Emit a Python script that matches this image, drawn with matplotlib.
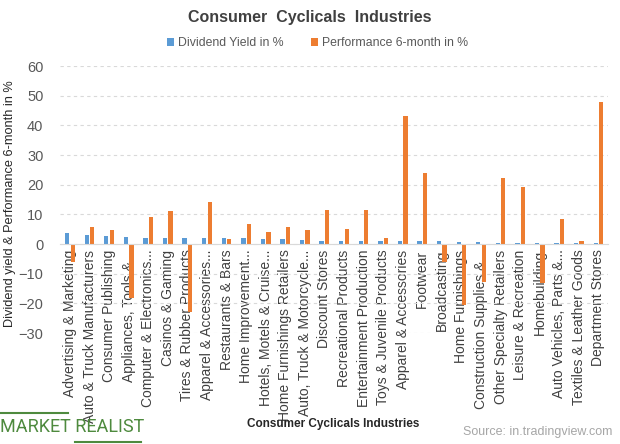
import numpy as np
import matplotlib
matplotlib.use("Agg")
from matplotlib import pyplot as plt

plt.rcParams['font.family'] = ['Liberation Sans', 'DejaVu Sans']

industries = [
    "Advertising & Marketing", "Auto & Truck Manufacturers", "Consumer Publishing",
    "Appliances, Tools &...", "Computer & Electronics...", "Casinos & Gaming",
    "Tires & Rubber Products", "Apparel & Accessories...", "Restaurants & Bars",
    "Home Improvement...", "Hotels, Motels & Cruise...", "Home Furnishings Retailers",
    "Auto, Truck & Motorcycle...", "Discount Stores", "Recreational Products",
    "Entertainment Production", "Toys & Juvenile Products", "Apparel & Accessories",
    "Footwear", "Broadcasting", "Home Furnishings", "Construction Supplies &...",
    "Other Specialty Retailers", "Leisure & Recreation", "Homebuilding",
    "Auto Vehicles, Parts &...", "Textiles & Leather Goods", "Department Stores",
]
dividend_yield = [3.7, 3.1, 2.6, 2.4, 2.1, 1.9, 1.9, 1.9, 1.9, 1.9, 1.7, 1.7, 1.5, 1.1,
                  1.1, 0.9, 0.9, 0.9, 0.9, 0.9, 0.7, 0.7, 0.45, 0.45, 0.45, 0.2, 0.2, 0.2]
perf_6m = [-6.0, 5.7, 4.9, -18.2, 9.2, 11.1, -22.8, 14.1, 1.8, 6.7, 3.9, 5.9, 4.7, 11.6,
           5.2, 11.6, 1.9, 43.2, 24.0, -6.0, -20.5, -12.7, 22.3, 19.3, -13.2, 8.5, 0.9, 47.9]

blue = '#5B9BD5'
orange = '#ED7D31'

fig = plt.figure(figsize=(6.2, 4.44), dpi=100)
ax = fig.add_axes([0.097, 0.25, 0.884, 0.601])

x = np.arange(len(industries))
w = 0.22
ax.bar(x - 0.14, dividend_yield, w, color=blue, label='Dividend Yield in %', zorder=3)
ax.bar(x + 0.14, perf_6m, w, color=orange, label='Performance 6-month in %', zorder=3)

ax.set_xlim(-0.5, len(industries) - 0.5)
ax.set_ylim(-30, 60)
ax.set_yticks(range(-30, 61, 10))
ax.yaxis.grid(True, linestyle=(0, (3, 3)), color='#D9D9D9', linewidth=0.8, zorder=0)
ax.set_axisbelow(True)

for s in ['top', 'right', 'left']:
    ax.spines[s].set_visible(False)
ax.spines['bottom'].set_position(('data', 0))
ax.spines['bottom'].set_color('#D9D9D9')
ax.spines['bottom'].set_zorder(4)

ax.set_xticks(x)
ax.set_xticklabels(industries, rotation=90, fontsize=10, color='#404040')
ax.tick_params(axis='x', length=0, pad=4)
ax.tick_params(axis='y', length=0, pad=12, labelsize=10.5, labelcolor='#595959')

ax.set_ylabel('Dividend yield & Performance 6-month in %', fontsize=9.2, color='#262626')
ax.yaxis.set_label_coords(-0.08, 0.485)

fig.text(0.5, 0.96, 'Consumer  Cyclicals  Industries', ha='center', va='center',
         fontsize=11.5, fontweight='bold', color='#404040')
fig.legend(loc='center', bbox_to_anchor=(0.512, 0.903), ncol=2, frameon=False,
           fontsize=8.8, handlelength=0.6, handleheight=0.6, handletextpad=0.3,
           columnspacing=2.2, labelcolor='#595959')

fig.text(0.538, 0.045, 'Consumer Cyclicals Industries', ha='center', va='center',
         fontsize=8.5, fontweight='bold', color='#262626')
fig.text(0.988, 0.027, 'Source: in.tradingview.com', ha='right', va='center',
         fontsize=9, color='#A6A6A6')

green = '#4E8A3E'
fig.text(0.0, 0.038, 'MARKET REALIST', ha='left', va='center', fontsize=13,
         color=green, family=['Roboto', 'DejaVu Sans'])
fig.add_artist(plt.Line2D([0.0, 0.11], [0.07, 0.07], color=green, lw=1.5))
fig.add_artist(plt.Line2D([0.121, 0.228], [0.005, 0.005], color=green, lw=1.5))

fig.savefig('out.png', dpi=100)
